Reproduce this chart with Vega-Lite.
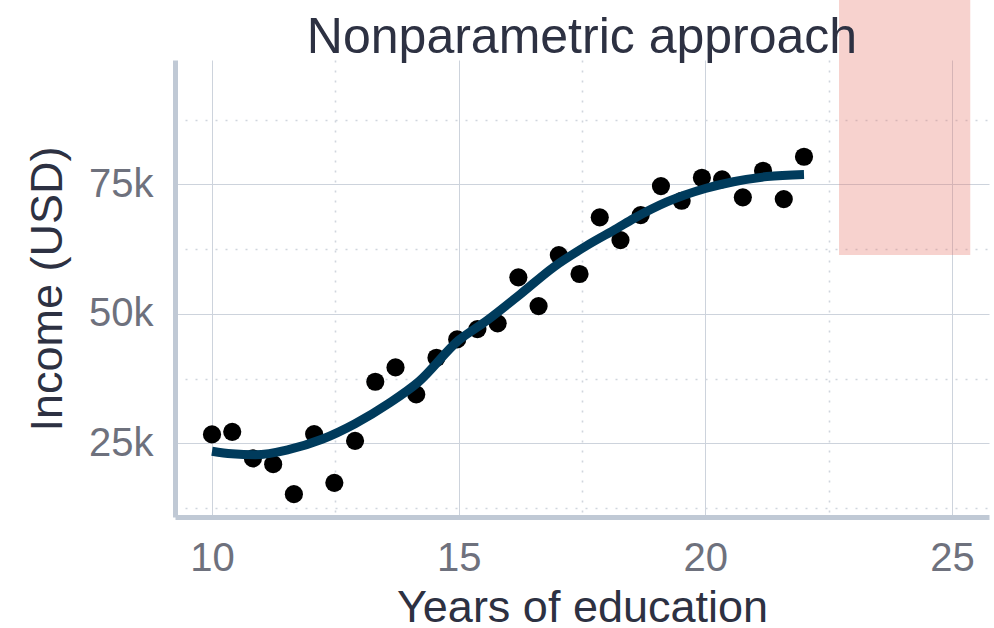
{
  "$schema": "https://vega.github.io/schema/vega-lite/v6.json",
  "width": 814,
  "height": 457,
  "autosize": "none",
  "padding": {"left": 175, "top": 60, "right": 5, "bottom": 111},
  "background": "white",
  "config": {
    "font": "Liberation Sans",
    "view": {"stroke": null}
  },
  "title": {
    "text": "Nonparametric approach",
    "fontSize": 50,
    "fontWeight": "normal",
    "color": "#2d3142",
    "anchor": "middle",
    "baseline": "alphabetic",
    "offset": 5,
    "dy": 108,
    "zindex": -1
  },
  "datasets": {
    "points": [
      {"educ": 10.0, "income": 26740},
      {"educ": 10.41, "income": 27240},
      {"educ": 10.83, "income": 22100},
      {"educ": 11.24, "income": 21000},
      {"educ": 11.66, "income": 15200},
      {"educ": 12.07, "income": 26800},
      {"educ": 12.48, "income": 17400},
      {"educ": 12.9, "income": 25500},
      {"educ": 13.31, "income": 36900},
      {"educ": 13.72, "income": 39670},
      {"educ": 14.14, "income": 34460},
      {"educ": 14.55, "income": 41530},
      {"educ": 14.97, "income": 45080},
      {"educ": 15.38, "income": 47070},
      {"educ": 15.79, "income": 48170},
      {"educ": 16.21, "income": 57050},
      {"educ": 16.62, "income": 51500},
      {"educ": 17.03, "income": 61350},
      {"educ": 17.45, "income": 57700},
      {"educ": 17.86, "income": 68630},
      {"educ": 18.28, "income": 64250},
      {"educ": 18.69, "income": 69070},
      {"educ": 19.1, "income": 74670},
      {"educ": 19.52, "income": 71830},
      {"educ": 19.93, "income": 76270},
      {"educ": 20.34, "income": 75970},
      {"educ": 20.76, "income": 72490},
      {"educ": 21.17, "income": 77630},
      {"educ": 21.59, "income": 72160},
      {"educ": 22.0, "income": 80330}
    ],
    "fit": [
      {"educ": 10.0, "income": 23500},
      {"educ": 10.4, "income": 23000},
      {"educ": 10.88, "income": 22800},
      {"educ": 11.55, "income": 23800},
      {"educ": 12.23, "income": 25800},
      {"educ": 12.9, "income": 28800},
      {"educ": 13.58, "income": 32700},
      {"educ": 14.19, "income": 36900},
      {"educ": 15.0, "income": 44900},
      {"educ": 15.57, "income": 48700},
      {"educ": 16.25, "income": 53800},
      {"educ": 16.92, "income": 59000},
      {"educ": 17.6, "income": 63200},
      {"educ": 18.21, "income": 66500},
      {"educ": 18.55, "income": 68400},
      {"educ": 19.22, "income": 71600},
      {"educ": 20.0, "income": 74200},
      {"educ": 20.57, "income": 75500},
      {"educ": 21.25, "income": 76500},
      {"educ": 22.0, "income": 76900}
    ],
    "band": [
      {"educ": 22.71, "educ2": 25.37, "income": 61350, "income2": 110600}
    ]
  },
  "layer": [
    {
      "data": {"name": "points"},
      "mark": {"type": "point", "filled": true, "color": "black", "opacity": 1, "size": 330},
      "encoding": {
        "x": {
          "field": "educ", "type": "quantitative",
          "scale": {"domain": [9.25, 25.75], "nice": false, "zero": false},
          "axis": {
            "values": [10, 12.5, 15, 17.5, 20, 22.5, 25],
            "labelExpr": "datum.value % 5 === 0 ? datum.label : ''",
            "title": "Years of education",
            "grid": true,
            "gridColor": {"condition": {"test": "datum.value % 5 !== 0", "value": "#d0d5dd"}, "value": "#cdd3dc"},
            "gridDash": {"condition": {"test": "datum.value % 5 !== 0", "value": [2, 8]}, "value": []},
            "gridWidth": {"condition": {"test": "datum.value % 5 !== 0", "value": 1.6}, "value": 1},
            "domain": true, "domainColor": "#c0c9d5", "domainWidth": 5,
            "ticks": false, "tickSize": 0,
            "labelFontSize": 40, "labelColor": "#6e717d", "labelPadding": 21,
            "titleFontSize": 45, "titleColor": "#2d3142", "titleFontWeight": "normal", "titlePadding": 7
          }
        },
        "y": {
          "field": "income", "type": "quantitative",
          "scale": {"domain": [10800, 99000], "nice": false, "zero": false},
          "axis": {
            "values": [12500, 25000, 37500, 50000, 62500, 75000, 87500],
            "format": "~s",
            "labelExpr": "datum.value % 25000 === 0 ? datum.label : ''",
            "title": "Income (USD)",
            "grid": true,
            "gridColor": {"condition": {"test": "datum.value % 25000 !== 0", "value": "#d0d5dd"}, "value": "#cdd3dc"},
            "gridDash": {"condition": {"test": "datum.value % 25000 !== 0", "value": [2, 8]}, "value": []},
            "gridWidth": {"condition": {"test": "datum.value % 25000 !== 0", "value": 1.6}, "value": 1},
            "domain": true, "domainColor": "#c0c9d5", "domainWidth": 5,
            "ticks": false, "tickSize": 0,
            "labelFontSize": 40, "labelColor": "#6e717d", "labelPadding": 22,
            "titleFontSize": 45, "titleColor": "#2d3142", "titleFontWeight": "normal", "titlePadding": 18
          }
        }
      }
    },
    {
      "data": {"name": "fit"},
      "mark": {"type": "line", "color": "#003b5c", "strokeWidth": 9, "interpolate": "monotone", "strokeCap": "butt"},
      "encoding": {
        "x": {"field": "educ", "type": "quantitative"},
        "y": {"field": "income", "type": "quantitative"}
      }
    },
    {
      "data": {"name": "band"},
      "mark": {"type": "rect", "color": "#e8766b", "opacity": 0.33},
      "encoding": {
        "x": {"field": "educ", "type": "quantitative"},
        "x2": {"field": "educ2"},
        "y": {"field": "income", "type": "quantitative"},
        "y2": {"field": "income2"}
      }
    }
  ]
}
